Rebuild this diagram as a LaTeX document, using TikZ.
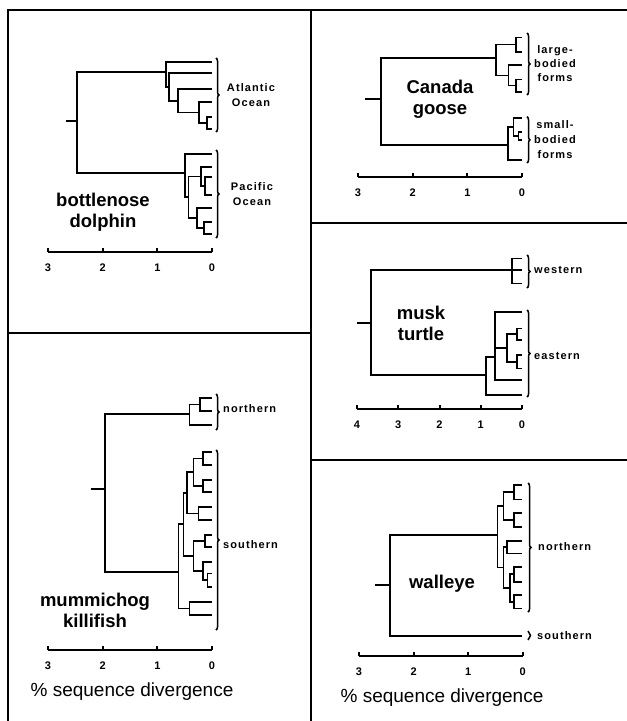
\documentclass[tikz,border=0pt]{standalone}
\usepackage{fontspec}
\setmainfont{Liberation Sans}
\usetikzlibrary{decorations.pathreplacing}
\begin{document}
\begin{tikzpicture}[x=1pt,y=-1pt,
  tree/.style={line width=1.6pt, line join=miter},
  frame/.style={line width=1.6pt},
  axisline/.style={line width=2pt},
  brk/.style={decorate, decoration={brace, amplitude=3pt, aspect=0.5}, line width=1.5pt},
  spec/.style={font=\fontsize{18.5}{21}\selectfont\bfseries, align=center, inner sep=0pt},
  tiplab/.style={font=\fontsize{11}{15}\selectfont\bfseries\addfontfeature{LetterSpace=10}, align=center, inner sep=0pt},
  num/.style={font=\fontsize{11}{12}\selectfont\bfseries, inner sep=0pt},
  xlab/.style={font=\fontsize{19}{22}\selectfont, inner sep=0pt}
]
\useasboundingbox (0,0) rectangle (627,721);
% ---------- frame ----------
\coordinate (fTL) at (8,10);
\coordinate (fTR) at (627,10);
\coordinate (fBL) at (8,721);
\coordinate (fTM) at (311,10);
\coordinate (fBM) at (311,721);
\coordinate (fL1) at (8,333);
\coordinate (fM1) at (311,333);
\coordinate (fM2) at (311,223);
\coordinate (fR2) at (627,223);
\coordinate (fM3) at (311,460);
\coordinate (fR3) at (627,460);
\draw[frame] (fBL) -- (fTL) -- (fTR);
\draw[frame] (fTM) -- (fBM);
\draw[frame] (fL1) -- (fM1);
\draw[frame] (fM2) -- (fR2);
\draw[frame] (fM3) -- (fR3);

% ---------- bottlenose dolphin ----------
\coordinate (a1) at (212,62);
\coordinate (a2) at (212,73);
\coordinate (a3) at (212,89);
\coordinate (a4) at (212,102);
\coordinate (a5) at (212,117);
\coordinate (a6) at (212,129);
\coordinate (A5) at (207,123);
\coordinate (A4) at (199,112.5);
\coordinate (A3) at (178,100.7);
\coordinate (A2) at (169,87);
\coordinate (A1) at (166,72);
\coordinate (p1) at (212,154);
\coordinate (p2) at (212,167);
\coordinate (p3) at (212,177);
\coordinate (p4) at (212,195);
\coordinate (p5) at (212,208);
\coordinate (p6) at (212,222);
\coordinate (p7) at (212,234);
\coordinate (PA2) at (205,186);
\coordinate (PA) at (200.7,176.5);
\coordinate (PB2) at (204,228);
\coordinate (PB) at (196.7,218);
\coordinate (PM) at (188.3,197);
\coordinate (PR) at (185,173);
\coordinate (DR) at (77,121);
\coordinate (D0) at (66,121);
\draw[tree] (D0) -- (DR);
\draw[tree] (DR) |- (A1); \draw[tree] (DR) |- (PR);
\draw[tree] (A1) |- (a1); \draw[tree] (A1) |- (A2);
\draw[tree] (A2) |- (a2); \draw[tree] (A2) |- (A3);
\draw[tree] (A3) |- (a3); \draw[tree] (A3) |- (A4);
\draw[tree] (A4) |- (a4); \draw[tree] (A4) |- (A5);
\draw[tree] (A5) |- (a5); \draw[tree] (A5) |- (a6);
\draw[tree] (PR) |- (p1); \draw[tree] (PR) |- (PM);
\draw[tree] (PM) |- (PA); \draw[tree] (PM) |- (PB);
\draw[tree] (PA) |- (p2); \draw[tree] (PA) |- (PA2);
\draw[tree] (PA2) |- (p3); \draw[tree] (PA2) |- (p4);
\draw[tree] (PB) |- (p5); \draw[tree] (PB) |- (PB2);
\draw[tree] (PB2) |- (p6); \draw[tree] (PB2) |- (p7);
\coordinate (bAt) at (216,58); \coordinate (bAb) at (216,132);
\coordinate (bPt) at (216,150); \coordinate (bPb) at (216,238);
\draw[brk] (bAt) -- (bAb);
\draw[brk] (bPt) -- (bPb);
\node[tiplab] (lAtl) at (251,95) {Atlantic\\Ocean};
\node[tiplab] (lPac) at (252,194) {Pacific\\Ocean};
\node[spec] (lDol) at (103,212) {bottlenose\\dolphin};
\coordinate (dx0) at (48,252); \coordinate (dx3) at (212,252);
\draw[axisline] (dx0) -- (dx3);
\foreach \i/\v in {0/3,1/2,2/1,3/0} {
  \draw[axisline] (48+\i*54.67,252) -- ++(0,-4);
  \node[num] (dn\i) at (48+\i*54.67,268) {\v};
}

% ---------- Canada goose ----------
\coordinate (g1) at (522,37.3);
\coordinate (g2) at (522,51.7);
\coordinate (g3) at (522,65);
\coordinate (g4) at (522,79.3);
\coordinate (g5) at (522,91.7);
\coordinate (g6) at (522,118);
\coordinate (g7) at (522,131.7);
\coordinate (g8) at (522,140);
\coordinate (g9) at (522,160);
\coordinate (U1) at (515.7,44.5);
\coordinate (U3) at (515.7,85.5);
\coordinate (U2) at (508.3,75.3);
\coordinate (U) at (495.7,58);
\coordinate (L2) at (518.3,135.8);
\coordinate (L1) at (513.3,126.9);
\coordinate (L) at (508,145);
\coordinate (GR) at (381,99);
\coordinate (G0) at (365,99);
\draw[tree] (G0) -- (GR);
\draw[tree] (GR) |- (U); \draw[tree] (GR) |- (L);
\draw[tree] (U) |- (U1); \draw[tree] (U) |- (U2);
\draw[tree] (U1) |- (g1); \draw[tree] (U1) |- (g2);
\draw[tree] (U2) |- (g3); \draw[tree] (U2) |- (U3);
\draw[tree] (U3) |- (g4); \draw[tree] (U3) |- (g5);
\draw[tree] (L) |- (L1); \draw[tree] (L) |- (g9);
\draw[tree] (L1) |- (g6); \draw[tree] (L1) |- (L2);
\draw[tree] (L2) |- (g7); \draw[tree] (L2) |- (g8);
\coordinate (bGt) at (527,33); \coordinate (bGb) at (527,95);
\coordinate (bSt) at (527,116.7); \coordinate (bSb) at (527,163);
\draw[brk] (bGt) -- (bGb);
\draw[brk] (bSt) -- (bSb);
\node[tiplab, font=\fontsize{11}{14}\selectfont\bfseries\addfontfeature{LetterSpace=10}] (lLarge) at (555,64) {large-\\bodied\\forms};
\node[tiplab, font=\fontsize{11}{15}\selectfont\bfseries\addfontfeature{LetterSpace=10}] (lSmall) at (555,140) {small-\\bodied\\forms};
\node[spec] (lGoose) at (440,99) {Canada\\goose};
\coordinate (gx0) at (358,176.7); \coordinate (gx3) at (522,176.7);
\draw[axisline] (gx0) -- (gx3);
\foreach \i/\v in {0/3,1/2,2/1,3/0} {
  \draw[axisline] (358+\i*54.67,176.7) -- ++(0,-4);
  \node[num] (gn\i) at (358+\i*54.67,193) {\v};
}

% ---------- musk turtle ----------
\coordinate (w1) at (522,258.3);
\coordinate (w2) at (522,270);
\coordinate (w3) at (522,283.3);
\coordinate (W) at (511.7,270);
\coordinate (e1) at (522,311.7);
\coordinate (e2) at (522,328.3);
\coordinate (e3) at (522,340);
\coordinate (e4) at (522,355);
\coordinate (e5) at (522,368.3);
\coordinate (e6) at (522,380);
\coordinate (e7) at (522,395);
\coordinate (E3) at (516.7,334);
\coordinate (E4) at (516.7,361.7);
\coordinate (E2) at (506.7,348);
\coordinate (E1) at (495,356.7);
\coordinate (E) at (486,375);
\coordinate (TR) at (370.7,323);
\coordinate (T0) at (357,323);
\draw[tree] (T0) -- (TR);
\draw[tree] (TR) |- (W); \draw[tree] (TR) |- (E);
\draw[tree] (W) |- (w1); \draw[tree] (W) |- (w2); \draw[tree] (W) |- (w3);
\draw[tree] (E) |- (E1); \draw[tree] (E) |- (e7);
\draw[tree] (E1) |- (e1); \draw[tree] (E1) |- (E2); \draw[tree] (E1) |- (e6);
\draw[tree] (E2) |- (E3); \draw[tree] (E2) |- (E4);
\draw[tree] (E3) |- (e2); \draw[tree] (E3) |- (e3);
\draw[tree] (E4) |- (e4); \draw[tree] (E4) |- (e5);
\coordinate (bWt) at (527,255); \coordinate (bWb) at (527,288);
\coordinate (bEt) at (527,310); \coordinate (bEb) at (527,397);
\draw[brk] (bWt) -- (bWb);
\draw[brk] (bEt) -- (bEb);
\node[tiplab, anchor=west] (lWest) at (534,270) {western};
\node[tiplab, anchor=west] (lEast) at (534,356) {eastern};
\node[spec] (lTurt) at (421,323) {musk\\turtle};
\coordinate (tx0) at (357,409); \coordinate (tx4) at (522,409);
\draw[axisline] (tx0) -- (tx4);
\foreach \i/\v in {0/4,1/3,2/2,3/1,4/0} {
  \draw[axisline] (357+\i*41.25,409) -- ++(0,-4);
  \node[num] (tn\i) at (357+\i*41.25,425) {\v};
}

% ---------- mummichog killifish ----------
\coordinate (k1) at (212,398);
\coordinate (k2) at (212,411);
\coordinate (k3) at (212,425);
\coordinate (N1) at (200,404.5);
\coordinate (N) at (189.3,414);
\coordinate (s1) at (212,451.7);
\coordinate (s2) at (212,465);
\coordinate (s3) at (212,480);
\coordinate (s4) at (212,491.7);
\coordinate (s5) at (212,506.7);
\coordinate (s6) at (212,520);
\coordinate (s7) at (212,535);
\coordinate (s8) at (212,546.7);
\coordinate (s9) at (212,561.7);
\coordinate (s10) at (212,573.3);
\coordinate (s11) at (212,586.7);
\coordinate (s12) at (212,601.7);
\coordinate (s13) at (212,615);
\coordinate (S12) at (202.7,458.3);
\coordinate (S34) at (202.7,485.8);
\coordinate (SA) at (193.3,472);
\coordinate (S56) at (198.3,513.3);
\coordinate (SB) at (186.7,492.7);
\coordinate (S78) at (205,540.8);
\coordinate (S1011) at (207.3,580);
\coordinate (S9x) at (202.7,570.8);
\coordinate (SC) at (193.3,555.8);
\coordinate (SE) at (183.3,524);
\coordinate (S1213) at (189.3,608.3);
\coordinate (SR) at (178.3,572);
\coordinate (KR) at (105,489);
\coordinate (K0) at (90.7,489);
\draw[tree] (K0) -- (KR);
\draw[tree] (KR) |- (N); \draw[tree] (KR) |- (SR);
\draw[tree] (N) |- (N1); \draw[tree] (N) |- (k3);
\draw[tree] (N1) |- (k1); \draw[tree] (N1) |- (k2);
\draw[tree] (SR) |- (SE); \draw[tree] (SR) |- (S1213);
\draw[tree] (SE) |- (SB); \draw[tree] (SE) |- (SC);
\draw[tree] (SB) |- (SA); \draw[tree] (SB) |- (S56);
\draw[tree] (SA) |- (S12); \draw[tree] (SA) |- (S34);
\draw[tree] (S12) |- (s1); \draw[tree] (S12) |- (s2);
\draw[tree] (S34) |- (s3); \draw[tree] (S34) |- (s4);
\draw[tree] (S56) |- (s5); \draw[tree] (S56) |- (s6);
\draw[tree] (SC) |- (S78); \draw[tree] (SC) |- (S9x);
\draw[tree] (S78) |- (s7); \draw[tree] (S78) |- (s8);
\draw[tree] (S9x) |- (s9); \draw[tree] (S9x) |- (S1011);
\draw[tree] (S1011) |- (s10); \draw[tree] (S1011) |- (s11);
\draw[tree] (S1213) |- (s12); \draw[tree] (S1213) |- (s13);
\coordinate (bNt) at (216,394); \coordinate (bNb) at (216,430);
\coordinate (bSSt) at (216,450); \coordinate (bSSb) at (216,630);
\draw[brk] (bNt) -- (bNb);
\draw[brk] (bSSt) -- (bSSb);
\node[tiplab, anchor=west] (lKN) at (223,409) {northern};
\node[tiplab, anchor=west] (lKS) at (223,545) {southern};
\node[spec] (lKill) at (95,610) {mummichog\\killifish};
\coordinate (kx0) at (48,650); \coordinate (kx3) at (212,650);
\draw[axisline] (kx0) -- (kx3);
\foreach \i/\v in {0/3,1/2,2/1,3/0} {
  \draw[axisline] (48+\i*54.67,650) -- ++(0,-4);
  \node[num] (kn\i) at (48+\i*54.67,666) {\v};
}
\node[xlab] (xK) at (132,692) {\% sequence divergence};

% ---------- walleye ----------
\coordinate (n1) at (522,485);
\coordinate (n2) at (522,499.3);
\coordinate (n3) at (522,512.7);
\coordinate (n4) at (522,526.7);
\coordinate (n5) at (522,541);
\coordinate (n6) at (522,553.3);
\coordinate (n7) at (522,566.7);
\coordinate (n8) at (522,581.7);
\coordinate (n9) at (522,595);
\coordinate (n10) at (522,608.3);
\coordinate (ws) at (522,635.7);
\coordinate (WA) at (514,492.2);
\coordinate (WB) at (514,519.7);
\coordinate (WAB) at (503.3,506);
\coordinate (WC) at (506.7,547.2);
\coordinate (WD) at (514,574.2);
\coordinate (WF) at (514,601.7);
\coordinate (WDF) at (510,588);
\coordinate (WCDF) at (503.3,567.6);
\coordinate (WN) at (497.3,535);
\coordinate (WR) at (390,585);
\coordinate (W0) at (375,585);
\draw[tree] (W0) -- (WR);
\draw[tree] (WR) |- (WN); \draw[tree] (WR) |- (ws);
\draw[tree] (WN) |- (WAB); \draw[tree] (WN) |- (WCDF);
\draw[tree] (WAB) |- (WA); \draw[tree] (WAB) |- (WB);
\draw[tree] (WA) |- (n1); \draw[tree] (WA) |- (n2);
\draw[tree] (WB) |- (n3); \draw[tree] (WB) |- (n4);
\draw[tree] (WCDF) |- (WC); \draw[tree] (WCDF) |- (WDF);
\draw[tree] (WC) |- (n5); \draw[tree] (WC) |- (n6);
\draw[tree] (WDF) |- (WD); \draw[tree] (WDF) |- (WF);
\draw[tree] (WD) |- (n7); \draw[tree] (WD) |- (n8);
\draw[tree] (WF) |- (n9); \draw[tree] (WF) |- (n10);
\coordinate (bWNt) at (528,483); \coordinate (bWNb) at (528,612);
\coordinate (bWSt) at (528,631); \coordinate (bWSb) at (528,640);
\draw[brk] (bWNt) -- (bWNb);
\draw[brk, decoration={brace, amplitude=2.5pt}] (bWSt) -- (bWSb);
\node[tiplab, anchor=west] (lWN) at (538,547) {northern};
\node[tiplab, anchor=west] (lWS) at (537,636) {southern};
\node[spec] (lWall) at (442,584) {walleye};
\coordinate (wx0) at (359,656); \coordinate (wx3) at (522.7,656);
\draw[axisline] (wx0) -- (wx3);
\foreach \i/\v in {0/3,1/2,2/1,3/0} {
  \draw[axisline] (359+\i*54.57,656) -- ++(0,-4);
  \node[num] (wn\i) at (359+\i*54.57,672) {\v};
}
\node[xlab] (xW) at (442,698) {\% sequence divergence};
\end{tikzpicture}
\end{document}
